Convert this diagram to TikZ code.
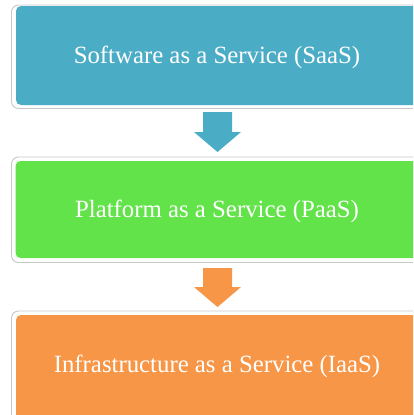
\documentclass[tikz,border=0pt]{standalone}
\usepackage{fontspec}
\setmainfont{Liberation Serif}
\usetikzlibrary{calc}
\definecolor{saasblue}{RGB}{75,172,198}
\definecolor{paasgreen}{RGB}{99,227,74}
\definecolor{iaasorange}{RGB}{247,150,70}
\definecolor{rimgray}{RGB}{200,200,200}
\tikzset{
  rim/.style={draw=rimgray, line width=0.9pt, fill=white, rounded corners=7pt},
  tier/.style={rounded corners=5pt},
  tiertext/.style={text=white, font=\fontsize{24.8}{28}\selectfont, anchor=base, inner sep=0pt},
  blockarrow/.style={draw=none}
}
\begin{document}
\begin{tikzpicture}[x=1pt,y=-1pt]
\useasboundingbox (0,0) rectangle (413,415);
\clip (0,0) rectangle (413,415);
% tier 1
\draw[rim] (11.5,5) rectangle (430,108.5);
\fill[tier, saasblue] (16,6) rectangle (430,105);
\node[tiertext] (saas) at (217,63) {Software as a Service (SaaS)};
% tier 2
\draw[rim] (11.5,157) rectangle (430,262.5);
\fill[tier, paasgreen] (15.5,161) rectangle (430,258);
\node[tiertext] (paas) at (217,217) {Platform as a Service (PaaS)};
% tier 3
\draw[rim] (11.5,311) rectangle (430,425);
\fill[tier, iaasorange] (16,315) rectangle (430,425);
\node[tiertext] (iaas) at (217,372) {Infrastructure as a Service (IaaS)};
% arrows
\coordinate (a1) at (217.5,112);
\coordinate (a2) at (217.5,268);
\fill[saasblue] (a1) ++(-14.5,0) -- ++(0,20) -- ++(-9,0) -- ($(a1)+(0,40)$) -- ($(a1)+(23.5,20)$) -- ($(a1)+(14.5,20)$) -- ($(a1)+(14.5,0)$) -- cycle;
\fill[iaasorange] (a2) ++(-14.5,0) -- ++(0,19) -- ++(-9,0) -- ($(a2)+(0,39)$) -- ($(a2)+(23.5,19)$) -- ($(a2)+(14.5,19)$) -- ($(a2)+(14.5,0)$) -- cycle;
\end{tikzpicture}
\end{document}
